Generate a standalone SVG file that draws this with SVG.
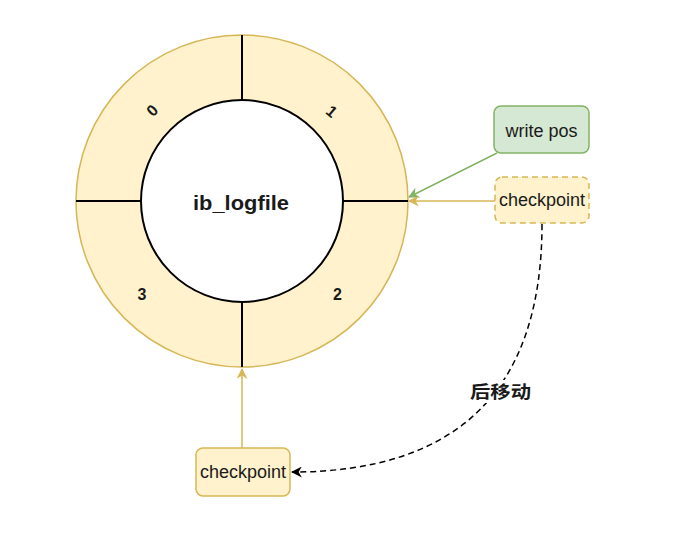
<svg xmlns="http://www.w3.org/2000/svg" width="698" height="547" viewBox="0 0 698 547">
<style>
.t{font-family:"Liberation Sans",Arial,sans-serif;fill:#1a1a1a}
.b{font-weight:bold}
.y{fill:#fff2cc;stroke:#d6b656;stroke-width:1.5}
.g{fill:#d5e8d4;stroke:#82b366;stroke-width:1.5}
.k{stroke:#000;stroke-width:2;fill:none}
</style>
<defs>
<marker id="ay" viewBox="0 0 10 10" refX="9" refY="5" markerWidth="11" markerHeight="11" markerUnits="userSpaceOnUse" orient="auto"><path d="M0,0 L10,5 L0,10 L3,5 Z" fill="#d6b656"/></marker>
<marker id="ag" viewBox="0 0 10 10" refX="9" refY="5" markerWidth="11" markerHeight="11" markerUnits="userSpaceOnUse" orient="auto"><path d="M0,0 L10,5 L0,10 L3,5 Z" fill="#82b366"/></marker>
<marker id="ak" viewBox="0 0 10 10" refX="9" refY="5" markerWidth="11" markerHeight="11" markerUnits="userSpaceOnUse" orient="auto"><path d="M0,0 L10,5 L0,10 L3,5 Z" fill="#000"/></marker>
</defs>
<rect width="698" height="547" fill="#fff"/>
<g id="ring">
<circle cx="242" cy="201" r="166" class="y"/>
<line x1="242" y1="35" x2="242" y2="100" class="k"/>
<line x1="242" y1="302" x2="242" y2="367" class="k"/>
<line x1="76" y1="201" x2="141" y2="201" class="k"/>
<line x1="343" y1="201" x2="408" y2="201" class="k"/>
<circle cx="242" cy="201" r="101" fill="#fff" stroke="#000" stroke-width="2"/>
<text class="t b" x="193" y="210" font-size="19.5" textLength="96" lengthAdjust="spacingAndGlyphs">ib_logfile</text>
<text class="t b" x="0" y="6" font-size="16" text-anchor="middle" transform="translate(152,110) rotate(-45)">0</text>
<text class="t b" x="0" y="6" font-size="16" text-anchor="middle" transform="translate(332,111) rotate(40)">1</text>
<text class="t b" x="337.5" y="299.5" font-size="16" text-anchor="middle">2</text>
<text class="t b" x="142" y="299.5" font-size="16" text-anchor="middle">3</text>
</g>
<g id="connectors">
<line x1="497" y1="153" x2="409" y2="197" stroke="#82b366" stroke-width="1.5" marker-end="url(#ag)"/>
<line x1="495" y1="201" x2="409" y2="201" stroke="#d6b656" stroke-width="1.5" marker-end="url(#ay)"/>
<line x1="242" y1="448" x2="242" y2="369" stroke="#d6b656" stroke-width="1.5" marker-end="url(#ay)"/>
<path d="M542,224 Q542,472 292,472" fill="none" stroke="#000" stroke-width="1.5" stroke-dasharray="6,4" marker-end="url(#ak)"/>
<rect x="468" y="380" width="66" height="23" fill="#fff"/>
<text class="b" x="470" y="398" font-size="17" textLength="61" lengthAdjust="spacingAndGlyphs" fill="#1a1a1a" font-family="'Noto Sans CJK SC','Liberation Sans',sans-serif">后移动</text>
</g>
<g id="write-pos">
<rect x="494" y="106" width="95" height="47" rx="7" class="g"/>
<text class="t" x="541.5" y="136.5" font-size="18" text-anchor="middle">write pos</text>
</g>
<g id="checkpoint-top">
<rect x="495" y="177" width="94" height="46" rx="7" class="y" stroke-dasharray="6,4"/>
<text class="t" x="542" y="206" font-size="18" text-anchor="middle">checkpoint</text>
</g>
<g id="checkpoint-bottom">
<rect x="196" y="448" width="94" height="48" rx="7" class="y"/>
<text class="t" x="243" y="478" font-size="18" text-anchor="middle">checkpoint</text>
</g>
</svg>
